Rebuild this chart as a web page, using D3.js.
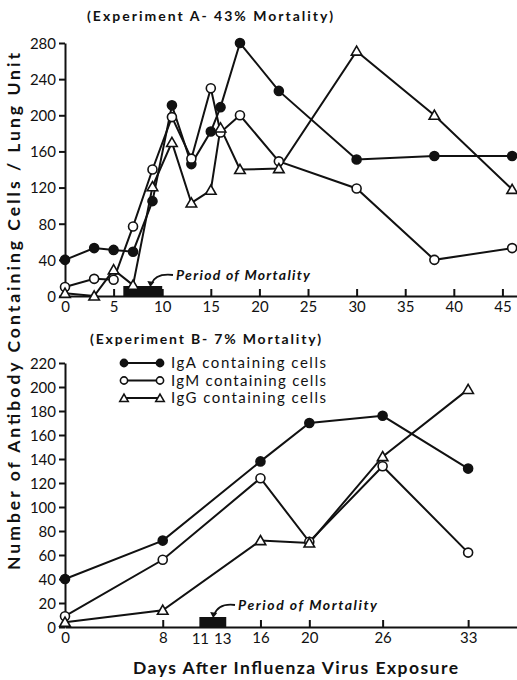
<!DOCTYPE html>
<html>
<head>
<meta charset="utf-8">
<script src="https://cdn.jsdelivr.net/npm/d3@7"></script>
<style>
body { margin: 0; background: #fff; }
svg text { font-family: "Lato", "DejaVu Sans", sans-serif; font-weight: 700; fill: #111; }
</style>
</head>
<body>
<div id="chart"></div>
<script>
// Experiment A (43% mortality)
const daysA = [0, 3, 5, 7, 9, 11, 13, 15, 16, 18, 22, 30, 38, 46];
const igaA = [40, 53, 51, 49, 105, 211, 146, 182, 209, 280, 227, 151, 155, 155];
const igmA = [10, 19, 18, 77, 140, 198, 152, 230, 181, 200, 149, 119, 40, 53];
const iggA = [3, 0, 29, 12, 121, 170, 103, 117, 186, 140, 141, 271, 200, 118];
const ticksXA = [0, 5, 10, 15, 20, 25, 30, 35, 40, 45];
const ticksYA = [0, 40, 80, 120, 160, 200, 240, 280];
const mortalityA = [6, 10];

// Experiment B (7% mortality)
const daysB = [0, 8, 16, 20, 26, 33];
const igaB = [40, 72, 138, 170, 176, 132];
const igmB = [9, 56, 124, 71, 134, 62];
const iggB = [4, 14, 72, 70, 142, 198];
const ticksXB = [0, 8, 16, 20, 26, 33];
const extraLabelsXB = [11, 13];
const ticksYB = [0, 20, 40, 60, 80, 100, 120, 140, 160, 180, 200, 220];
const mortalityB = [11, 13.2];

const seriesNames = ['IgA containing cells', 'IgM containing cells', 'IgG containing cells'];
const markers = ['filled', 'open', 'triangle'];

const width = 517, height = 680;
const svg = d3.select('#chart').append('svg')
	.attr('width', width)
	.attr('height', height);

const draw_marker = (g, type, x, y, size = 1) => {
	if (type === 'triangle') {
		g.append('path')
			.attr('d', d3.symbol(d3.symbolTriangle, 48 * size * size)())
			.attr('transform', `translate(${x},${y + 1})`)
			.attr('fill', '#fff')
			.attr('stroke', '#111')
			.attr('stroke-width', 1.6);
	} else {
		g.append('circle')
			.attr('cx', x)
			.attr('cy', y)
			.attr('r', 4.5 * size)
			.attr('fill', type === 'filled' ? '#111' : '#fff')
			.attr('stroke', '#111')
			.attr('stroke-width', 1.6);
	}
};

const draw_panel = ({ days, series, x, y, ticksX, ticksY, period, note }) => {
	const g = svg.append('g');

	// y axis
	const yAxis = g.append('g')
		.attr('transform', `translate(${x.range()[0]},0)`)
		.call(d3.axisLeft(y).tickValues(ticksY).tickSize(6).tickSizeOuter(0).tickPadding(3));
	yAxis.select('.domain').attr('stroke', '#111').attr('stroke-width', 2);
	yAxis.selectAll('.tick line').attr('stroke', '#111').attr('stroke-width', 2);
	yAxis.selectAll('.tick text')
		.style('font-size', '15px')
		.style('font-weight', 400)
		.attr('dy', '0.36em');

	// x axis, ticks pointing inwards
	const xAxis = g.append('g')
		.attr('transform', `translate(0,${y.range()[0]})`)
		.call(d3.axisBottom(x).tickValues(ticksX).tickSizeInner(-7).tickSizeOuter(0).tickPadding(5));
	xAxis.select('.domain').attr('stroke', '#111').attr('stroke-width', 2);
	xAxis.selectAll('.tick line').attr('stroke', '#111').attr('stroke-width', 2);
	xAxis.selectAll('.tick text')
		.style('font-size', '15px')
		.style('font-weight', 400);

	// mortality period
	g.append('rect')
		.attr('x', x(period[0]))
		.attr('y', y.range()[0] - 10)
		.attr('width', x(period[1]) - x(period[0]))
		.attr('height', 10)
		.attr('fill', '#111');

	const ax = x(period[0]) + (x(period[1]) - x(period[0])) * note.at;
	const ay = y.range()[0] - 10;
	g.append('path')
		.attr('d', `M${note.x - 3},${note.y - 5} Q${ax + 4},${note.y - 7} ${ax},${ay - 2}`)
		.attr('fill', 'none')
		.attr('stroke', '#111')
		.attr('stroke-width', 1.8);
	g.append('path')
		.attr('d', `M${ax - 4},${ay - 5} L${ax + 3},${ay - 4} L${ax - 1},${ay + 1} Z`)
		.attr('fill', '#111');
	g.append('text')
		.attr('x', note.x)
		.attr('y', note.y)
		.attr('textLength', note.len)
		.attr('lengthAdjust', 'spacing')
		.style('font-size', '14px')
		.style('font-style', 'italic')
		.text('Period of Mortality');

	// lines and markers
	const line = d3.line().x((d, i) => x(days[i])).y(d => y(d));
	series.forEach(values => {
		g.append('path')
			.attr('d', line(values))
			.attr('fill', 'none')
			.attr('stroke', '#111')
			.attr('stroke-width', 2);
	});
	series.forEach((values, s) => {
		values.forEach((v, i) => draw_marker(g, markers[s], x(days[i]), y(v)));
	});
	return g;
};

// panel A
const xA = d3.scaleLinear().domain([0, 46.5]).range([65, 517]);
const yA = d3.scaleLinear().domain([0, 280]).range([296, 43]);
draw_panel({
	days: daysA, series: [igaA, igmA, iggA], x: xA, y: yA,
	ticksX: ticksXA, ticksY: ticksYA, period: mortalityA,
	note: { x: 176, y: 280, at: 0.72, len: 134 },
});

// panel B
const xB = d3.scaleLinear().domain([0, 37]).range([65, 517]);
const yB = d3.scaleLinear().domain([0, 220]).range([627, 363]);
const panelB = draw_panel({
	days: daysB, series: [igaB, igmB, iggB], x: xB, y: yB,
	ticksX: ticksXB, ticksY: ticksYB, period: mortalityB,
	note: { x: 238, y: 610, at: 0.55, len: 139 },
});
panelB.selectAll('.extra')
	.data(extraLabelsXB)
	.enter()
	.append('text')
	.attr('class', 'extra')
	.attr('x', (d, i) => xB(d) + (i === 0 ? 1 : -1))
	.attr('y', 644)
	.attr('text-anchor', 'middle')
	.style('font-size', '15px')
	.style('font-weight', 400)
	.text(d => d);

// legend
const legend = svg.append('g');
seriesNames.forEach((name, i) => {
	const ly = 363 + i * 17.5;
	legend.append('line')
		.attr('x1', 124).attr('x2', 160)
		.attr('y1', ly).attr('y2', ly)
		.attr('stroke', '#111').attr('stroke-width', 2);
	draw_marker(legend, markers[i], 124, ly, 0.8);
	draw_marker(legend, markers[i], 160, ly, 0.8);
	legend.append('text')
		.attr('x', 171)
		.attr('y', ly + 5)
		.attr('textLength', 155)
		.attr('lengthAdjust', 'spacing')
		.style('font-size', '15px')
		.style('font-weight', 400)
		.text(name);
});

// titles
svg.append('text')
	.attr('x', 87).attr('y', 21)
	.attr('textLength', 246)
	.attr('lengthAdjust', 'spacing')
	.style('font-size', '14px')
	.text('(Experiment A- 43% Mortality)');
svg.append('text')
	.attr('x', 90).attr('y', 344)
	.attr('textLength', 231)
	.attr('lengthAdjust', 'spacing')
	.style('font-size', '14px')
	.text('(Experiment B- 7% Mortality)');

// axis titles
svg.append('text')
	.attr('transform', 'translate(20,570) rotate(-90)')
	.attr('textLength', 517)
	.attr('lengthAdjust', 'spacing')
	.style('font-size', '17.5px')
	.text('Number of Antibody Containing Cells / Lung Unit');
svg.append('text')
	.attr('x', 133).attr('y', 674)
	.attr('textLength', 325)
	.attr('lengthAdjust', 'spacing')
	.style('font-size', '17.5px')
	.text('Days After Influenza Virus Exposure');
</script>
</body>
</html>
